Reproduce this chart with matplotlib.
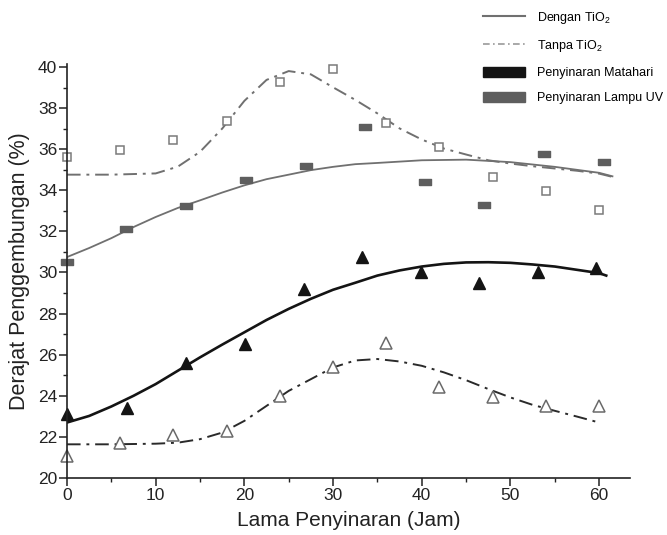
import matplotlib
matplotlib.use("Agg")
import matplotlib.pyplot as plt
from matplotlib.lines import Line2D
from matplotlib.patches import Patch
from matplotlib.ticker import MultipleLocator
from matplotlib import font_manager

plt.rcParams['font.family'] = ['Liberation Sans', 'DejaVu Sans']
plt.rcParams['mathtext.fontset'] = 'custom'
plt.rcParams['mathtext.rm'] = 'Liberation Sans'
plt.rcParams['mathtext.it'] = 'Liberation Sans'

# ---- measured points ----
# Penyinaran Matahari, dengan TiO2 (filled triangles)
sun_with_x = [0, 6.8, 13.4, 20.1, 26.7, 33.3, 39.9, 46.5, 53.1, 59.7]
sun_with_y = [23.1, 23.4, 25.6, 26.5, 29.2, 30.75, 30.0, 29.5, 30.0, 30.2]
# Penyinaran Matahari, tanpa TiO2 (hollow triangles)
sun_without_x = [0, 6, 12, 18, 24, 30, 36, 42, 48, 54, 60]
sun_without_y = [21.05, 21.7, 22.1, 22.3, 23.97, 25.4, 26.57, 24.44, 23.95, 23.5, 23.5]
# Penyinaran Lampu UV, dengan TiO2 (filled grey squares)
uv_with_x = [0, 6.7, 13.4, 20.2, 26.9, 33.6, 40.4, 47.0, 53.8, 60.5]
uv_with_y = [30.5, 32.1, 33.23, 34.52, 35.19, 37.06, 34.38, 33.3, 35.76, 35.37]
# Penyinaran Lampu UV, tanpa TiO2 (hollow squares)
uv_without_x = [0, 6, 12, 18, 24, 30, 36, 42, 48, 54, 60]
uv_without_y = [35.62, 35.95, 36.44, 37.37, 39.25, 39.89, 37.28, 36.1, 34.65, 33.97, 33.02]

# ---- fitted curves ----
fit_sun_with_x = [0, 2.5, 5, 7.5, 10, 12.5, 15, 17.5, 20, 22.5, 25, 27.5, 30, 32.5,
                  35, 37.5, 40, 42.5, 45, 47.5, 50, 52.5, 55, 57.5, 60, 60.8]
fit_sun_with_y = [22.70, 23.02, 23.48, 24.0, 24.57, 25.22, 25.87, 26.49, 27.09, 27.69,
                  28.23, 28.72, 29.16, 29.50, 29.85, 30.10, 30.29, 30.42, 30.49, 30.50,
                  30.47, 30.39, 30.29, 30.13, 29.97, 29.85]

fit_sun_without_x = [0, 5, 10, 12.5, 15, 17.5, 20, 22.5, 25, 27.5, 30, 32.5, 35, 37.5,
                     40, 42.5, 45, 47.5, 50, 52.5, 55, 57.5, 60]
fit_sun_without_y = [21.64, 21.64, 21.67, 21.72, 21.89, 22.21, 22.78, 23.51, 24.24, 24.81,
                     25.38, 25.72, 25.79, 25.67, 25.46, 25.14, 24.76, 24.33, 23.92, 23.56,
                     23.27, 22.99, 22.70]

fit_uv_with_x = [0, 2.5, 5, 7.5, 10, 12.5, 15, 17.5, 20, 22.5, 25, 27.5, 30, 32.5,
                 35, 40, 45, 50, 55, 60, 61.5]
fit_uv_with_y = [30.75, 31.19, 31.67, 32.21, 32.70, 33.14, 33.51, 33.89, 34.24, 34.54,
                 34.76, 34.98, 35.14, 35.27, 35.33, 35.46, 35.49, 35.37, 35.14, 34.85, 34.68]

fit_uv_without_x = [0, 5, 10, 12.5, 15, 17.5, 20, 22.5, 25, 27.5, 30, 32.5, 35, 37.5,
                    40, 42.5, 45, 47.5, 50, 52.5, 55, 57.5, 60, 61.8]
fit_uv_without_y = [34.76, 34.76, 34.82, 35.15, 35.87, 37.0, 38.35, 39.37, 39.80, 39.64,
                    39.01, 38.40, 37.74, 37.01, 36.47, 36.03, 35.74, 35.46, 35.30, 35.17,
                    35.06, 34.95, 34.81, 34.62]

xticks = [0, 10, 20, 30, 40, 50, 60]
yticks = [20, 22, 24, 26, 28, 30, 32, 34, 36, 38, 40]
legend_labels = ['Dengan TiO$_2$', 'Tanpa TiO$_2$', 'Penyinaran Matahari', 'Penyinaran Lampu UV']

BLACK = '#141414'
GREY_LINE = '#707070'
GREY_FILL = '#5e5e5e'
GREY_EDGE = '#7a7a7a'
dashdot = (0, (7, 3, 1.5, 3))

fig = plt.figure(figsize=(6.67, 5.35), dpi=100)
ax = fig.add_axes([0.1004, 0.1065, 0.8444, 0.7741])

# curves
ax.plot(fit_uv_with_x, fit_uv_with_y, color=GREY_LINE, lw=1.3)
ax.plot(fit_uv_without_x, fit_uv_without_y, color=GREY_LINE, lw=1.4, linestyle=dashdot)
ax.plot(fit_sun_with_x, fit_sun_with_y, color=BLACK, lw=1.9)
ax.plot(fit_sun_without_x, fit_sun_without_y, color='#2a2a2a', lw=1.4, linestyle=dashdot)

rect = [(-1, -0.55), (1, -0.55), (1, 0.55), (-1, 0.55), (-1, -0.55)]
ax.plot(uv_with_x, uv_with_y, linestyle='none', marker=rect, markersize=8,
        color=GREY_FILL, markeredgecolor=GREY_FILL, clip_on=False)
ax.plot(uv_without_x, uv_without_y, linestyle='none', marker='s', markersize=6.2,
        markerfacecolor='white', markeredgecolor=GREY_EDGE, markeredgewidth=1.1, clip_on=False)
ax.plot(sun_with_x, sun_with_y, linestyle='none', marker='^', markersize=8.5,
        color=BLACK, clip_on=False)
ax.plot(sun_without_x, sun_without_y, linestyle='none', marker='^', markersize=8,
        markerfacecolor='white', markeredgecolor='#6a6a6a', markeredgewidth=1.1, clip_on=False)

ax.set_xlim(0, 63.5)
ax.set_ylim(20, 40.15)
ax.set_xticks(xticks)
ax.set_yticks(yticks)
ax.xaxis.set_minor_locator(MultipleLocator(5))
ax.yaxis.set_minor_locator(MultipleLocator(1))
for s in ['top', 'right']:
    ax.spines[s].set_visible(False)
for s in ['left', 'bottom']:
    ax.spines[s].set_linewidth(1.2)
    ax.spines[s].set_color('#222222')
ax.tick_params(which='major', direction='out', length=5.5, width=1.1, colors='#222222',
               labelsize=12.5, pad=1.5)
ax.tick_params(which='minor', direction='out', length=3, width=1.0, colors='#222222')

ax.set_xlabel('Lama Penyinaran (Jam)', fontsize=15, color='#222222', labelpad=6)
ax.set_ylabel('Derajat Penggembungan (%)', fontsize=15.5, color='#222222', labelpad=6)

# legend font: narrow face if available
names = {f.name for f in font_manager.fontManager.ttflist}
if 'Liberation Sans Narrow' in names:
    leg_font = {'family': ['Liberation Sans Narrow', 'Liberation Sans'], 'size': 10.5}
    hl, htp = 3.0, 0.8
else:
    leg_font = {'family': ['Liberation Sans'], 'size': 9}
    hl, htp = 3.4, 0.9

handles = [
    Line2D([], [], color=GREY_LINE, lw=1.5),
    Line2D([], [], color='#9a9a9a', lw=1.2, linestyle=(0, (4, 2, 1, 2))),
    Patch(facecolor=BLACK, edgecolor=BLACK),
    Patch(facecolor=GREY_FILL, edgecolor=GREY_FILL),
]
fig.legend(handles, legend_labels, loc='upper left', bbox_to_anchor=(0.724, 0.982),
           frameon=False, prop=leg_font, handlelength=hl,
           handleheight=0.9, handletextpad=htp,
           labelspacing=1.0, borderpad=0, borderaxespad=0)

fig.savefig('out.png', dpi=100)
